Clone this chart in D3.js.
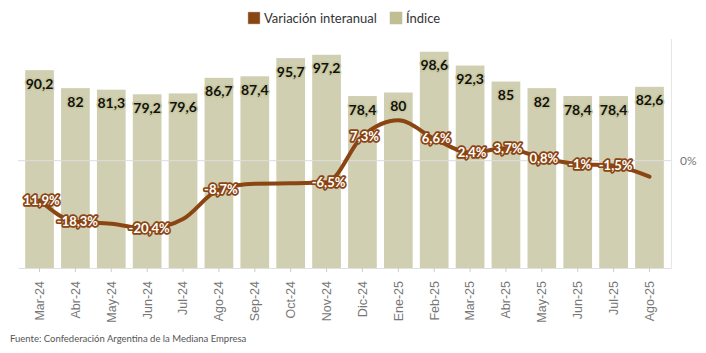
<!DOCTYPE html>
<html>
<head>
  <script src="https://d3js.org/d3.v7.min.js"></script>
  <style>
    body { margin: 0; background: white; }
    svg { font-family: Lato, "Noto Sans", sans-serif; }
    .bar { fill: #d0cfb2; }
    .bar-label { font-size: 14px; font-weight: bold; fill: #111; stroke: #c7c69c; stroke-width: 3px; paint-order: stroke; stroke-linejoin: round; }
    .line-label { font-size: 13px; font-weight: bold; fill: white; stroke: #8b4513; stroke-width: 3.5px; paint-order: stroke; stroke-linejoin: round; }
    .x-label { font-size: 12.5px; fill: #777; }
    .legend { font-size: 13px; fill: #333; }
    .source { font-size: 9.5px; fill: #555; }
  </style>
</head>
<body>
<svg id="chart" width="706" height="353"></svg>
<script>
  const months = ["Mar-24", "Abr-24", "May-24", "Jun-24", "Jul-24", "Ago-24", "Sep-24", "Oct-24", "Nov-24",
                  "Dic-24", "Ene-25", "Feb-25", "Mar-25", "Abr-25", "May-25", "Jun-25", "Jul-25", "Ago-25"];
  const indice = [90.2, 82, 81.3, 79.2, 79.6, 86.7, 87.4, 95.7, 97.2, 78.4, 80, 98.6, 92.3, 85, 82, 78.4, 78.4, 82.6];
  const variacion = [-11.9, -18.3, -18.9, -20.4, -17.5, -8.7, -6.9, -6.8, -6.5, 7.3, 12.1, 6.6, 2.4, 3.7, 0.8, -1, -1.5, -4.8];
  const variacionLabels = ["11,9%", "-18,3%", null, "-20,4%", null, "-8,7%", null, null, "-6,5%",
                           "7,3%", null, "6,6%", "2,4%", "3,7%", "0,8%", "-1%", "-1,5%", null];

  const svg = d3.select("#chart");
  const plotTop = 39, plotBottom = 268;

  const x = d3.scaleBand().domain(months).range([18, 671]).padding(0.2);
  const yBar = d3.scaleLinear().domain([0, 104.4]).range([plotBottom, plotTop]);
  const yLine = d3.scaleLinear().domain([-32.2, 36.5]).range([plotBottom, plotTop]);
  const cx = m => x(m) + x.bandwidth() / 2;

  // Legend
  const legend = svg.append("g");
  legend.append("rect").attr("x", 248).attr("y", 12).attr("width", 12).attr("height", 12)
    .attr("fill", "#8b4513").attr("stroke", "#b9b9b9").attr("stroke-width", 0.5);
  legend.append("text").attr("class", "legend").attr("x", 264).attr("y", 22.5).text("Variación interanual");
  legend.append("rect").attr("x", 390).attr("y", 12).attr("width", 12).attr("height", 12)
    .attr("fill", "#c0bf90").attr("stroke", "#b9b9b9").attr("stroke-width", 0.5);
  legend.append("text").attr("class", "legend").attr("x", 406).attr("y", 22.5).text("Índice");

  // Bars
  svg.selectAll("rect.bar").data(months).join("rect")
    .attr("class", "bar")
    .attr("x", d => x(d))
    .attr("y", (d, i) => yBar(indice[i]))
    .attr("width", x.bandwidth())
    .attr("height", (d, i) => yBar(0) - yBar(indice[i]));

  // Zero gridline and axes
  svg.append("line").attr("x1", 18).attr("x2", 671)
    .attr("y1", yLine(0)).attr("y2", yLine(0))
    .attr("stroke", "#ddd").attr("stroke-width", 1);
  svg.append("text").attr("x", 680).attr("y", yLine(0) + 4)
    .attr("font-size", 12).attr("fill", "#777").text("0%");
  svg.append("line").attr("x1", 671.5).attr("x2", 671.5).attr("y1", plotTop).attr("y2", plotBottom)
    .attr("stroke", "#e6e6e6");

  const xAxis = svg.append("g").attr("transform", `translate(0,${plotBottom})`)
    .call(d3.axisBottom(x).tickSize(4).tickSizeOuter(0));
  xAxis.select(".domain").attr("stroke", "#e0e0e0");
  xAxis.selectAll(".tick line").attr("stroke", "#ccc");
  xAxis.selectAll(".tick text")
    .attr("class", "x-label")
    .attr("font-family", null).attr("font-size", null).attr("fill", null)
    .attr("transform", "rotate(-90)")
    .attr("x", -13).attr("y", 0).attr("dy", "0.35em")
    .style("text-anchor", "end");

  // Variation line
  const line = d3.line()
    .x((d, i) => cx(months[i]))
    .y(d => yLine(d))
    .curve(d3.curveMonotoneX);
  svg.append("path").datum(variacion)
    .attr("d", line)
    .attr("fill", "none")
    .attr("stroke", "#8b4513")
    .attr("stroke-width", 4)
    .attr("stroke-linecap", "round");

  // Bar labels
  svg.selectAll("text.bar-label").data(months).join("text")
    .attr("class", "bar-label")
    .attr("x", d => cx(d))
    .attr("y", (d, i) => yBar(indice[i]) + 18.5)
    .attr("text-anchor", "middle")
    .text((d, i) => d3.format(".1f")(indice[i]).replace(".0", "").replace(".", ","));

  // Line labels
  svg.selectAll("text.line-label").data(months.filter((d, i) => variacionLabels[i])).join("text")
    .attr("class", "line-label")
    .attr("x", d => cx(d) + 2)
    .attr("y", d => yLine(variacion[months.indexOf(d)]) + 4.5)
    .attr("text-anchor", "middle")
    .text(d => variacionLabels[months.indexOf(d)]);

  // Source
  svg.append("text").attr("class", "source").attr("x", 10).attr("y", 342)
    .text("Fuente: Confederación Argentina de la Mediana Empresa");
</script>
</body>
</html>
